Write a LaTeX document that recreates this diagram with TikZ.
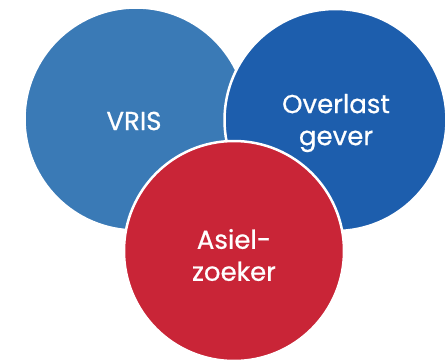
\documentclass[tikz,border=0pt]{standalone}
\usepackage{fontspec}
\setmainfont{Poppins}[FakeBold=0.6]
\definecolor{vrisblue}{HTML}{3A7AB6}
\definecolor{overblue}{HTML}{1D5EAD}
\definecolor{asielred}{HTML}{C92537}
\begin{document}
\begin{tikzpicture}[x=1pt,y=-1pt,
  disc/.style={circle,draw=white,line width=2.5pt,minimum size=#1,inner sep=0pt},
  lab/.style={text=white,font=\fontsize{26}{32}\selectfont,align=center}]
\useasboundingbox (0,0) rectangle (448,362);
\node[disc=223pt,fill=vrisblue] (vris) at (136,119) {};
\node[disc=222pt,fill=overblue] (over) at (335.5,120) {};
\node[disc=220pt,fill=asielred] (asiel) at (234,251) {};
\node[lab] (t1) at (134,121) {VRIS};
\node[lab] (t2) at (336,123) {Overlast\\gever};
\node[lab] (t3) at (234,255) {Asiel-\\zoeker};
\end{tikzpicture}
\end{document}
